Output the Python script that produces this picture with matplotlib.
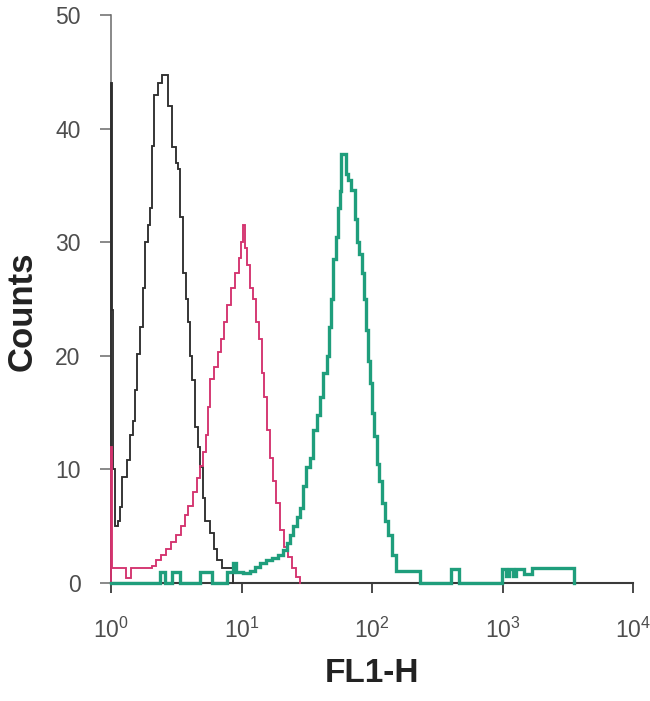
import numpy as np
import matplotlib
matplotlib.use("Agg")
import matplotlib.pyplot as plt

plt.rcParams['font.family'] = ['Liberation Sans', 'DejaVu Sans']
plt.rcParams['mathtext.default'] = 'regular'

# ---- data: histogram channel positions (log10 of FL1-H) and counts ----
black_log = [0.000, 0.011, 0.019, 0.027, 0.054, 0.069, 0.084, 0.123, 0.146, 0.169,
             0.184, 0.199, 0.222, 0.245, 0.261, 0.284, 0.299, 0.314, 0.326, 0.360,
             0.391, 0.437, 0.467, 0.498, 0.513, 0.529, 0.552, 0.575, 0.590, 0.605,
             0.621, 0.644, 0.667, 0.682, 0.705, 0.720, 0.759, 0.789, 0.812, 0.851,
             0.912, 0.935]
black_counts = [44, 24, 10, 5, 5.5, 6.7, 9.3, 10.8, 13, 14.3,
                17, 20.2, 22.5, 26, 30, 31.5, 33, 38.5, 43, 44,
                44.7, 42, 38.4, 37, 36.4, 32.2, 27.3, 25, 23, 20,
                17.9, 13.7, 12, 10.2, 7.5, 5.5, 4.4, 3, 2, 1.3,
                1.3, 0]

magenta_log = [0.000, 0.011, 0.115, 0.153, 0.314, 0.345, 0.383, 0.421, 0.460, 0.498,
               0.536, 0.567, 0.590, 0.628, 0.659, 0.682, 0.705, 0.728, 0.743, 0.759,
               0.789, 0.820, 0.843, 0.866, 0.889, 0.920, 0.950, 0.981, 0.996, 1.008,
               1.023, 1.042, 1.065, 1.088, 1.111, 1.134, 1.157, 1.172, 1.195, 1.218,
               1.241, 1.264, 1.295, 1.326, 1.356, 1.387, 1.418, 1.448]
magenta_counts = [12, 1.3, 0.4, 1.3, 1.5, 2, 2.5, 3, 3.6, 4.2,
                  5, 6, 6.8, 8, 9.2, 10.3, 11.5, 13, 15.5, 18,
                  19, 20.3, 21.5, 23, 24.5, 26, 27.3, 28.6, 30, 31.5,
                  29.5, 28, 26, 25, 23, 21.5, 18.5, 16.4, 13.5, 11,
                  9, 7, 4.7, 3.2, 2.3, 1.3, 0.5, 0]

teal_log = [0.000, 0.376, 0.414, 0.467, 0.529, 0.682, 0.774, 0.889, 0.935, 0.958,
            1.012, 1.065, 1.103, 1.142, 1.188, 1.234, 1.280, 1.318, 1.349, 1.372,
            1.395, 1.425, 1.448, 1.471, 1.494, 1.525, 1.548, 1.579, 1.602, 1.625,
            1.655, 1.671, 1.686, 1.701, 1.724, 1.740, 1.755, 1.763, 1.801, 1.816,
            1.839, 1.870, 1.885, 1.900, 1.923, 1.939, 1.954, 1.969, 1.985, 2.000,
            2.015, 2.038, 2.054, 2.077, 2.100, 2.123, 2.153, 2.184, 2.368, 2.605,
            2.667, 2.996, 3.027, 3.050, 3.081, 3.103, 3.165, 3.226, 3.548]
teal_counts = [0, 1, 0, 1, 0, 1, 0, 1, 1.8, 1,
               0.9, 1.1, 1.4, 1.8, 2, 2.2, 2.5, 2.9, 3.5, 4.2,
               5, 5.8, 6.6, 8.5, 10.2, 11, 13.5, 14.8, 16.4, 18.5,
               20, 22.5, 25, 28.5, 30.5, 33, 34.5, 37.8, 36, 35.5,
               34.6, 32, 30, 29, 27.3, 25, 22.3, 19.5, 17.6, 15,
               12.9, 10.5, 9, 7, 5.5, 4.2, 2.5, 1.1, 0, 1.2,
               0, 1.2, 0.6, 1.2, 0.6, 1.2, 0.8, 1.3, 0]

y_ticks = [0, 10, 20, 30, 40, 50]
x_ticks = [1, 10, 100, 1000, 10000]
x_tick_labels = ['$10^{0}$', '$10^{1}$', '$10^{2}$', '$10^{3}$', '$10^{4}$']

# ---- figure ----
fig = plt.figure(figsize=(6.5, 7.01), dpi=100)
ax = fig.add_axes([111/650, 118/701, 522/650, 568/701])

def draw(logs, counts, color, lw, z):
    x = np.power(10.0, np.array(logs))
    y = np.array(counts, dtype=float)
    x = np.concatenate([[x[0]], x])
    y = np.concatenate([[0.0], y])
    ax.plot(x, y, drawstyle='steps-post', color=color, lw=lw, zorder=z,
            clip_on=False, solid_joinstyle='miter')

draw(black_log, black_counts, '#2e2e2e', 1.35, 3)
draw(magenta_log, magenta_counts, '#d4336e', 1.35, 4)
draw(teal_log, teal_counts, '#1f9e7c', 2.4, 5)

ax.set_xscale('log')
ax.set_xlim(1, 10000)
ax.set_ylim(0, 50)

ax.set_xticks(x_ticks)
ax.set_xticklabels(x_tick_labels)
ax.xaxis.set_minor_locator(matplotlib.ticker.NullLocator())
ax.set_yticks(y_ticks)
ax.set_yticklabels([str(v) for v in y_ticks])

for s in ['top', 'right']:
    ax.spines[s].set_visible(False)
ax.spines['left'].set_color('#6a6a6a')
ax.spines['left'].set_linewidth(1.1)
ax.spines['bottom'].set_color('#3a3a3a')
ax.spines['bottom'].set_linewidth(1.5)

ax.tick_params(axis='y', direction='out', length=8, width=1.1, color='#6a6a6a',
               labelsize=16.5, labelcolor='#4d4d4d', pad=14)
ax.tick_params(axis='x', direction='out', length=7, width=1.3, color='#3a3a3a',
               labelsize=16.5, labelcolor='#4d4d4d', pad=18)

ax.set_ylabel('Counts', fontsize=25, fontweight='bold', color='#222222')
ax.yaxis.set_label_coords(-0.139, 0.479)
ax.set_xlabel('FL1-H', fontsize=24, fontweight='bold', color='#222222', labelpad=11)

fig.savefig('out.png', dpi=100)
